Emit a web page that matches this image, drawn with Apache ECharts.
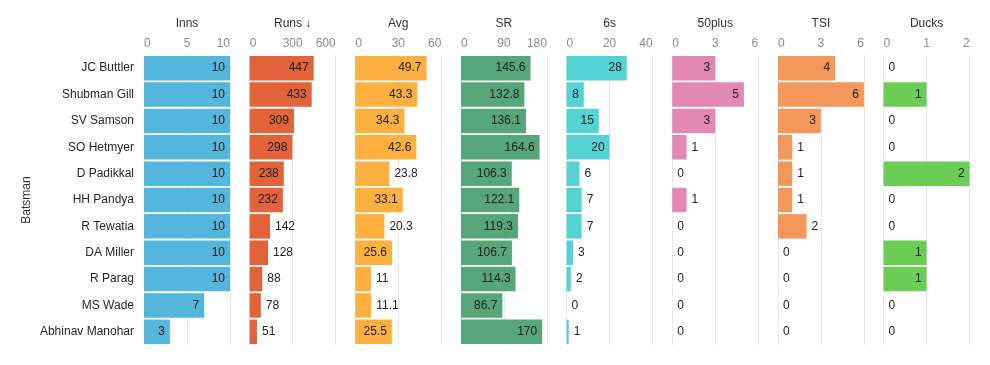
<!DOCTYPE html>
<html><head><meta charset="utf-8">
<script src="https://cdn.jsdelivr.net/npm/echarts@6/dist/echarts.min.js"></script>
<style>html,body{margin:0;padding:0;background:#fff}#c{width:990px;height:365px}</style>
</head><body><div id="c"></div>
<script>
const batsmen = ['JC Buttler','Shubman Gill','SV Samson','SO Hetmyer','D Padikkal','HH Pandya','R Tewatia','DA Miller','R Parag','MS Wade','Abhinav Manohar'];
const inns    = [10,10,10,10,10,10,10,10,10,7,3];
const runs    = [447,433,309,298,238,232,142,128,88,78,51];
const avg     = [49.7,43.3,34.3,42.6,23.8,33.1,20.3,25.6,11,11.1,25.5];
const sr      = [145.6,132.8,136.1,164.6,106.3,122.1,119.3,106.7,114.3,86.7,170];
const sixes   = [28,8,15,20,6,7,7,3,2,0,1];
const fifties = [3,5,3,1,0,1,0,0,0,0,0];
const tsi     = [4,6,3,1,1,1,2,0,0,0,0];
const ducks   = [0,1,0,0,2,0,0,1,1,0,0];

const metricNames = ['Inns','Runs \u2193','Avg','SR','6s','50plus','TSI','Ducks'];
const metricData  = [inns, runs, avg, sr, sixes, fifties, tsi, ducks];
const axisMax     = [10,600,60,180,40,6,6,2];
const axisStep    = [5,300,30,90,20,3,3,1];

// styles
const colors   = ['#55B6DB','#E2633A','#FDB03F','#56A67A','#54D2D4','#E388B3','#F3975A','#6CCD55'];
const labelPad = [10,10,11.5,10,9,10,25,10];
const FONT = '"Liberation Sans", Arial, sans-serif';
const panelLeft0 = 144, panelStep = 105.65, panelW = 86, gridTop = 55, gridH = 290;

const cv = document.createElement('canvas').getContext('2d');
cv.font = '12px ' + FONT;
const tw = s => cv.measureText(s).width;

const grids = [], xAxes = [], yAxes = [], series = [];
metricData.forEach((arr, i) => {
  grids.push({left: panelLeft0 + panelStep*i, top: gridTop, width: panelW, height: gridH});
  xAxes.push({
    type: 'value', gridIndex: i, position: 'top', min: 0, max: axisMax[i], interval: axisStep[i],
    name: metricNames[i], nameLocation: 'middle', nameGap: 25,
    nameTextStyle: {color: '#333', fontSize: 12, fontFamily: FONT},
    axisLine: {show: false}, axisTick: {show: false},
    axisLabel: {color: '#8a8a8a', fontSize: 12, fontFamily: FONT, margin: 5,
      alignMinLabel: 'left', alignMaxLabel: 'right'},
    splitLine: {show: true, lineStyle: {color: '#e6e8eb', width: 1}}
  });
  yAxes.push({
    type: 'category', gridIndex: i, data: batsmen, inverse: true,
    axisLine: {show: false}, axisTick: {show: false},
    axisLabel: {show: i === 0, color: '#252525', fontSize: 12, fontFamily: FONT, margin: 10},
    name: i === 0 ? 'Batsman' : '', nameLocation: 'middle', nameGap: 111, nameRotate: 90,
    nameTextStyle: {color: '#333', fontSize: 12, fontFamily: FONT}
  });
  series.push({
    type: 'bar', xAxisIndex: i, yAxisIndex: i, barCategoryGap: '7%',
    itemStyle: {color: colors[i]},
    label: {show: true, color: '#222', fontSize: 12, fontFamily: FONT, distance: 5,
      formatter: p => String(p.value)},
    data: arr.map(v => {
      const px = v / axisMax[i] * panelW;
      const inside = v > 0 && px >= tw(String(v)) + labelPad[i];
      return {value: v, label: {position: inside ? 'insideRight' : 'right'}};
    })
  });
});

const chart = echarts.init(document.getElementById('c'), null, {renderer: 'canvas'});
chart.setOption({
  animation: false,
  grid: grids, xAxis: xAxes, yAxis: yAxes, series: series
});
</script>
</body></html>
